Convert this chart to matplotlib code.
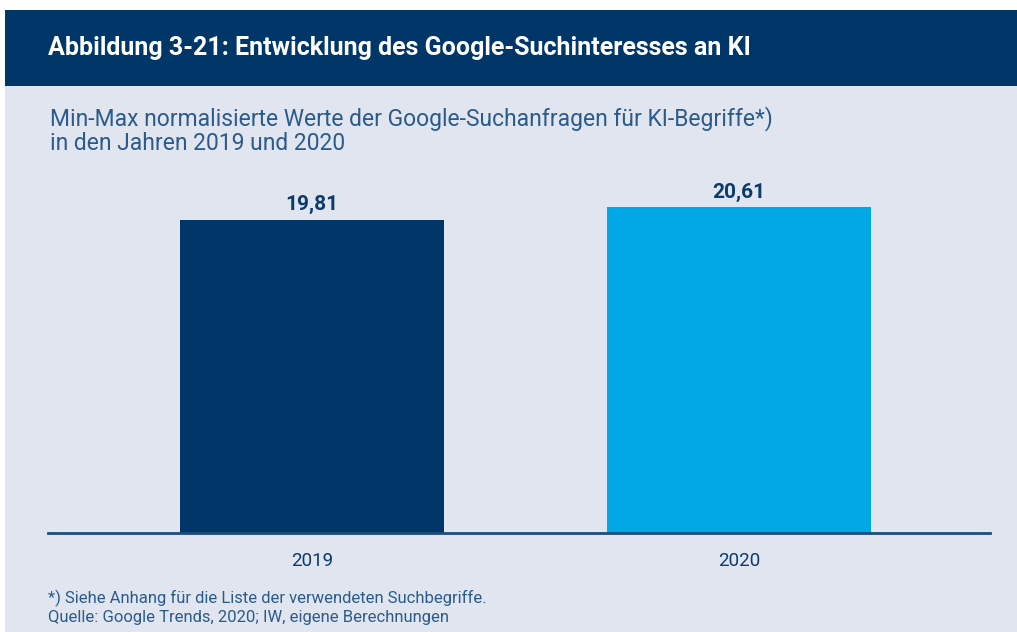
import matplotlib.pyplot as plt
from matplotlib.patches import Rectangle

# data
years = ['2019', '2020']
values = [19.81, 20.61]
value_labels = ['19,81', '20,61']
bar_colors = ['#003668', '#00a9e6']

title = 'Abbildung 3-21: Entwicklung des Google-Suchinteresses an KI'
subtitle = 'Min-Max normalisierte Werte der Google-Suchanfragen für KI-Begriffe*)\nin den Jahren 2019 und 2020'
footnote = '*) Siehe Anhang für die Liste der verwendeten Suchbegriffe.\nQuelle: Google Trends, 2020; IW, eigene Berechnungen'

plt.rcParams['font.family'] = ['Roboto', 'DejaVu Sans']

W, H = 1017, 632
fig = plt.figure(figsize=(W / 100, H / 100), dpi=100)
fig.patch.set_facecolor('white')

# background panels
fig.patches.append(Rectangle((5 / W, 0), 1 - 5 / W, 1 - 86 / H, transform=fig.transFigure,
                             facecolor='#e0e5ef', edgecolor='none', zorder=-10))
fig.patches.append(Rectangle((5 / W, 1 - 86 / H), 1 - 5 / W, 76 / H, transform=fig.transFigure,
                             facecolor='#003668', edgecolor='none', zorder=-10))

fig.text(48 / W, 1 - 48 / H, title, color='white', fontsize=18, fontweight='bold',
         va='center', ha='left')
fig.text(50 / W, 1 - 106 / H, subtitle, color='#2b5b8c', fontsize=16.5,
         va='top', ha='left', linespacing=1.05)
fig.text(48 / W, 1 - 590 / H, footnote, color='#2b5b8c', fontsize=12,
         va='top', ha='left', linespacing=1.25)

# axes: baseline at y=533, x from 48 to 990
top = 180
ax = fig.add_axes([48 / W, 1 - 533 / H, (990 - 48) / W, (533 - top) / H])
ax.set_facecolor('none')
x = range(len(years))
bars = ax.bar(x, values, width=0.618, color=bar_colors, zorder=2)
ax.set_ylim(0, 19.81 * (533 - top) / 313)
ax.set_xlim(-0.618, 1.588)

for i, (v, lab) in enumerate(zip(values, value_labels)):
    ax.text(i, v + 0.35, lab, ha='center', va='bottom', fontsize=15,
            fontweight='bold', color='#0b3b6b')

ax.set_xticks(list(x))
ax.set_xticklabels(years, fontsize=13.5, color='#0b3b6b')
ax.tick_params(axis='x', length=0, pad=14)
ax.set_yticks([])
for s in ['top', 'right', 'left']:
    ax.spines[s].set_visible(False)
ax.spines['bottom'].set_color('#1d4d7d')
ax.spines['bottom'].set_linewidth(2)
ax.spines['bottom'].set_zorder(3)

fig.savefig('out.png', dpi=100, facecolor=fig.get_facecolor())
